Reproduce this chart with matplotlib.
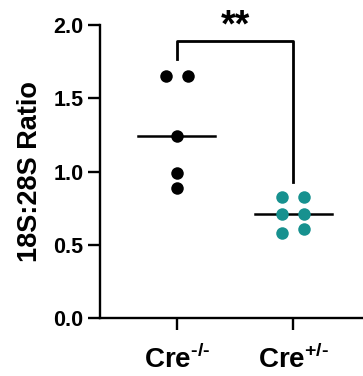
import numpy as np
import matplotlib
matplotlib.use("Agg")
import matplotlib.pyplot as plt

plt.rcParams['font.family'] = ['Liberation Sans', 'DejaVu Sans']
plt.rcParams['mathtext.fontset'] = 'custom'
plt.rcParams['mathtext.rm'] = 'Liberation Sans:bold'
plt.rcParams['mathtext.bf'] = 'Liberation Sans:bold'

groups = [r"Cre$^{\text{-/-}}$", r"Cre$^{\text{+/-}}$"]
ko_vals = [1.65, 1.65, 1.24, 0.99, 0.89]
het_vals = [0.83, 0.83, 0.71, 0.71, 0.58, 0.61]
yticks = [0.0, 0.5, 1.0, 1.5, 2.0]
sig_label = "**"

teal = "#17918f"

# horizontal spread of the dots (layout only)
ko_dx = [-0.095, 0.095, 0, 0, 0]
het_dx = [-0.095, 0.095, -0.095, 0.095, -0.095, 0.095]

fig = plt.figure(figsize=(3.63, 3.76), dpi=100)
ax = fig.add_axes([0.2755, 0.154, 0.7245, 0.779])

for i, (vals, dx, c) in enumerate([(ko_vals, ko_dx, "black"), (het_vals, het_dx, teal)]):
    xs = [i + d for d in dx]
    ax.plot(xs, vals, 'o', color=c, markersize=9, markeredgewidth=0, zorder=3, clip_on=False)
    m = np.median(vals)
    ax.plot([i - 0.33, i + 0.33], [m, m], color="black", lw=1.8, zorder=2)

# significance bracket
ax.plot([0, 0, 1, 1], [1.77, 1.89, 1.89, 0.93], color="black", lw=2.0, clip_on=False)
ax.text(0.5, 1.99, sig_label, ha='center', va='center', fontsize=27, fontweight='bold', clip_on=False)

ax.set_xlim(-0.66, 1.60)
ax.set_ylim(0, 2.0)
ax.set_yticks(yticks)
ax.set_yticklabels([f"{t:.1f}" for t in yticks], fontsize=15.5, fontweight='bold')
ax.set_xticks([0, 1])
ax.set_xticklabels(groups, fontsize=20, fontweight='bold')
ax.set_ylabel("18S:28S Ratio", fontsize=19.5, fontweight='bold', labelpad=7)

for s in ['top', 'right']:
    ax.spines[s].set_visible(False)
for s in ['left', 'bottom']:
    ax.spines[s].set_linewidth(1.7)
ax.tick_params(axis='both', width=1.7, length=8.5)
ax.tick_params(axis='y', pad=3.5)
ax.tick_params(axis='x', pad=11)

fig.savefig("out.png", dpi=100)
